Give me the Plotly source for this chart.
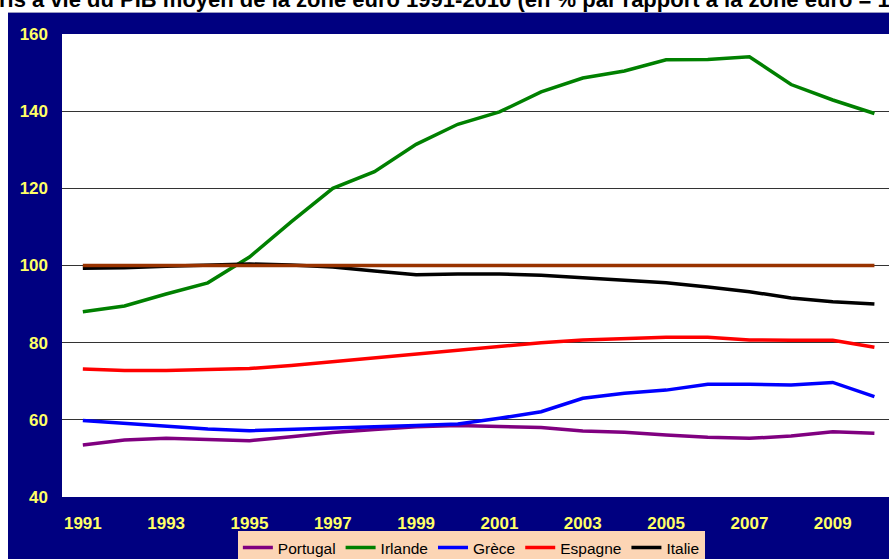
import plotly.graph_objects as go

years = list(range(1991, 2011))
portugal = [53.5, 54.8, 55.2, 54.8, 54.6, 55.6, 56.7, 57.5, 58.2, 58.5,
            58.2, 58.0, 57.1, 56.8, 56.1, 55.5, 55.2, 55.8, 56.9, 56.5]
irlande = [88.0, 89.5, 92.6, 95.5, 102.2, 111.3, 120.0, 124.3, 131.4, 136.6,
           139.8, 145.0, 148.6, 150.4, 153.3, 153.4, 154.1, 146.9, 142.9, 139.4]
grece = [59.8, 59.0, 58.2, 57.6, 57.2, 57.6, 57.9, 58.2, 58.5, 58.9,
         60.4, 62.1, 65.6, 66.9, 67.7, 69.2, 69.2, 69.0, 69.7, 66.0]
espagne = [73.2, 72.8, 72.8, 73.0, 73.3, 74.1, 75.1, 76.2, 77.2, 78.1,
           79.1, 80.0, 80.7, 81.0, 81.4, 81.4, 80.7, 80.6, 80.6, 78.8]
italie = [99.3, 99.4, 99.8, 100.0, 100.4, 100.1, 99.6, 98.6, 97.6, 97.8,
          97.8, 97.5, 96.8, 96.0, 95.5, 94.4, 93.2, 91.6, 90.6, 90.0]
zone_euro = [100] * len(years)

series = [
    ("Portugal", portugal, "#800080"),
    ("Irlande", irlande, "#008000"),
    ("Grèce", grece, "#0000FF"),
    ("Espagne", espagne, "#FF0000"),
    ("Italie", italie, "#000000"),
]
x_ticks = list(range(1991, 2011, 2))
y_ticks = [40, 60, 80, 100, 120, 140, 160]
title_text = "ris à vie du PIB moyen de la zone euro 1991-2010 (en % par rapport à la zone euro = 100)"

W, H = 889, 559
L, R, T, B = 62, 0, 34, 62
pw, ph = W - L - R, H - T - B

def px_x(p):
    return (p - L) / pw

def px_y(p):
    return (H - B - p) / ph

FONT = "Liberation Sans, Arial, sans-serif"

fig = go.Figure()
for name, vals, col in series:
    fig.add_trace(go.Scatter(x=years, y=vals, name=name, mode="lines",
                             line=dict(color=col, width=3.5)))
fig.add_trace(go.Scatter(x=years, y=zone_euro, name="Zone euro", mode="lines",
                         showlegend=False, line=dict(color="#993300", width=3.5)))

fig.update_layout(
    width=W, height=H,
    margin=dict(l=L, r=R, t=T, b=B, autoexpand=False),
    paper_bgcolor="#000080",
    plot_bgcolor="#FFFFFF",
    showlegend=True,
    legend=dict(orientation="h", x=0.495, xanchor="center",
                y=px_y(531), yanchor="top",
                bgcolor="#FCD5B5", borderwidth=0,
                font=dict(family=FONT, size=15.5, color="#000000"),
                itemwidth=30, tracegroupgap=0),
    xaxis=dict(range=[1990.5, 2010.35], tickmode="array", tickvals=x_ticks,
               ticktext=[str(v) for v in x_ticks], showgrid=False, zeroline=False,
               showline=False, ticks="", ticklabelstandoff=14,
               tickfont=dict(family=FONT, size=17, color="#FFFF66", weight="bold")),
    yaxis=dict(range=[40, 160], tickmode="array", tickvals=y_ticks,
               showgrid=True, gridcolor="#333333", gridwidth=1, zeroline=False,
               showline=False, ticks="", ticklabelstandoff=13,
               tickfont=dict(family=FONT, size=17, color="#FFFF66", weight="bold")),
    shapes=[
        dict(type="rect", xref="paper", yref="paper", x0=px_x(-5), x1=px_x(W + 5),
             y0=px_y(12), y1=px_y(-5), fillcolor="#FFFFFF", line=dict(width=0)),
        dict(type="rect", xref="paper", yref="paper", x0=px_x(-5), x1=px_x(8),
             y0=px_y(H + 5), y1=px_y(-5), fillcolor="#FFFFFF", line=dict(width=0)),
        dict(type="line", xref="paper", yref="paper", x0=px_x(8), x1=px_x(W + 5),
             y0=px_y(12.5), y1=px_y(12.5), line=dict(color="#9A9AC0", width=1)),
    ],
    annotations=[
        dict(text=title_text, xref="paper", yref="paper", x=px_x(-3), xanchor="left",
             y=px_y(-1), yanchor="middle", showarrow=False,
             font=dict(family=FONT, size=22, color="#000000", weight="bold")),
    ],
)

fig.write_html("out.html")
